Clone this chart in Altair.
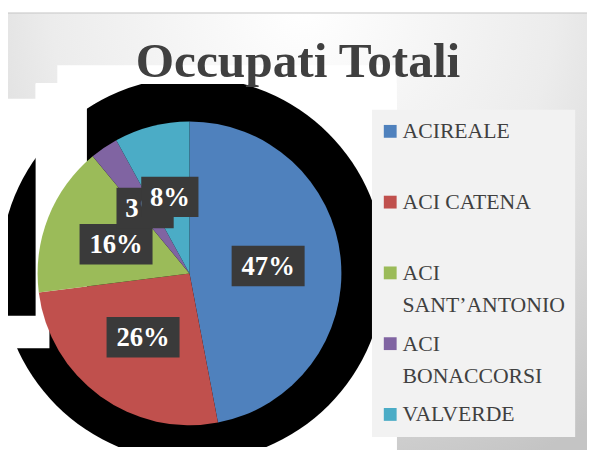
import altair as alt
import pandas as pd

# ---- data ----
names = ["ACIREALE", "ACI CATENA", "ACI SANT\u2019ANTONIO", "ACI BONACCORSI", "VALVERDE"]
values = [47, 26, 16, 3, 8]
colors = ["#4f81bd", "#c0504d", "#9bbb59", "#8064a2", "#4bacc6"]
pct_labels = ["47%", "26%", "16%", "3%", "8%"]
legend_labels = ["ACIREALE", "ACI CATENA", "ACI\nSANT\u2019ANTONIO", "ACI\nBONACCORSI", "VALVERDE"]
title_text = "Occupati Totali"

df = pd.DataFrame({
    "idx": list(range(len(names))),
    "name": names,
    "value": values,
    "label": pct_labels,
    "legend": legend_labels,
})
one = pd.DataFrame({"k": [0]})

SERIF = "Liberation Serif"
color_scale = alt.Scale(domain=names, range=colors)

# ---- decorative background ----
grad = alt.RadialGradient(
    gradient="radial",
    stops=[alt.GradientStop(color="#ffffff", offset=0),
           alt.GradientStop(color="#ececec", offset=0.5),
           alt.GradientStop(color="#c4c4c4", offset=1)],
    x1=0.5, y1=0.12, r1=0, x2=0.5, y2=0.12, r2=0.85,
)
frame = alt.Chart(one).mark_rect(color=grad, stroke="#c4c4c4", strokeWidth=1).encode(
    x=alt.value(-1), x2=alt.value(600), y=alt.value(-72), y2=alt.value(372))


def white_rect(x1, x2, y1, y2):
    return alt.Chart(one).mark_rect(color="white").encode(
        x=alt.value(x1), x2=alt.value(x2), y=alt.value(y1), y2=alt.value(y2))


plot_bg = alt.layer(
    white_rect(50, 394, -19, 372),
    white_rect(28, 394, -1, 372),
    white_rect(0, 394, 15, 372),
)

halo = alt.Chart(one).mark_arc(outerRadius=195, theta=0, theta2=6.2832,
                               color="black", clip=True).encode(
    x=alt.value(187), y=alt.value(188))

cutouts = alt.layer(
    white_rect(28, 80, 0, 248),
    white_rect(80, 88, 0, 20),
    white_rect(0, 42, 235, 268),
)

# ---- pie ----
pie = alt.Chart(df).mark_arc(outerRadius=154).encode(
    theta=alt.Theta("value:Q", stack=True),
    color=alt.Color("name:N", scale=color_scale, legend=None),
    order=alt.Order("idx:Q"),
    x=alt.value(184), y=alt.value(192),
)

# ---- percentage labels on dark boxes ----
xs = alt.Scale(domain=[-1, 1], range=[30, 338])
ys = alt.Scale(domain=[-1, 1], range=[346, 38])

lab_base = (
    alt.Chart(df)
    .transform_window(cum="sum(value)", sort=[alt.SortField("idx")])
    .transform_joinaggregate(total="sum(value)")
    .transform_calculate(
        mid="(datum.cum - datum.value / 2) / datum.total * 2 * PI",
        lx="0.52 * sin(datum.mid)",
        ly="0.52 * cos(datum.mid)",
    )
)
pos = dict(x=alt.X("lx:Q", scale=xs, axis=None), y=alt.Y("ly:Q", scale=ys, axis=None))


def label_group(cond):
    wide = lab_base.transform_filter(f"({cond}) && length(datum.label) == 3").mark_rect(
        width=74, height=41, color="#3a3a3a").encode(**pos)
    narrow = lab_base.transform_filter(f"({cond}) && length(datum.label) == 2").mark_rect(
        width=58, height=41, color="#3a3a3a").encode(**pos)
    txt = lab_base.transform_filter(cond).mark_text(
        font=SERIF, fontWeight="bold", fontSize=27, color="white",
        align="center", baseline="middle", dy=1).encode(text="label:N", **pos)
    return alt.layer(wide, narrow, txt)


labels = alt.layer(label_group("datum.idx < 4"), label_group("datum.idx == 4"))

# ---- legend ----
legend_box = alt.Chart(one).mark_rect(color="#f2f2f2").encode(
    x=alt.value(369), x2=alt.value(575), y=alt.value(26), y2=alt.value(358))

ly_enc = alt.Y("name:N", sort=names, scale=alt.Scale(range=[48, 335], padding=0), axis=None)
leg_sq = alt.Chart(df).mark_square(size=169, opacity=1, filled=True).encode(
    x=alt.value(387.5), y=ly_enc,
    color=alt.Color("name:N", scale=color_scale, legend=None))
leg_txt = alt.Chart(df).mark_text(
    font=SERIF, fontSize=22, color="#404040", align="left", baseline="top",
    dy=-10, lineBreak="\n", lineHeight=33).encode(
    x=alt.value(400), y=ly_enc, text="legend:N")
legend = alt.layer(leg_sq, leg_txt)

# ---- title ----
title = alt.Chart(one).mark_text(
    text=title_text, font=SERIF, fontWeight="bold", fontSize=50, color="#404040",
    align="center", baseline="alphabetic").encode(x=alt.value(294), y=alt.value(-7))

chart = alt.layer(
    frame, plot_bg, halo, cutouts, pie, labels, legend_box, legend, title
).resolve_scale(y="independent", x="independent").properties(
    width=394, height=368,
    padding={"left": 0, "top": 74, "right": 193, "bottom": 0},
    autosize=alt.AutoSizeParams(type="none"),
    background="white",
).configure_view(stroke=None)

chart.save("out.html", embed_options={"renderer": "svg", "actions": False})
